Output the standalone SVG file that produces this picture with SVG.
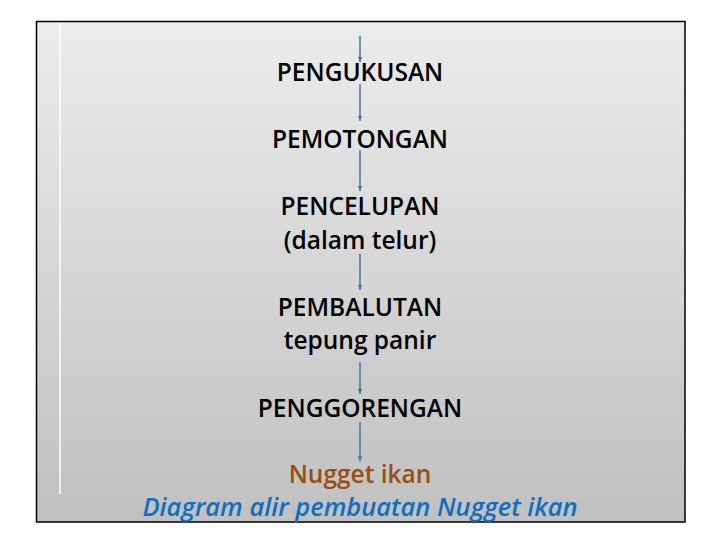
<svg xmlns="http://www.w3.org/2000/svg" width="720" height="540" viewBox="0 0 720 540">
  <defs>
    <linearGradient id="bg" x1="0" y1="0" x2="0" y2="1">
      <stop offset="0" stop-color="#ececec"/>
      <stop offset="1" stop-color="#c0c0c0"/>
    </linearGradient>
    <marker id="ah" markerWidth="6" markerHeight="6" refX="5" refY="3" orient="auto" markerUnits="userSpaceOnUse">
      <path d="M0,0.8 L5,3 L0,5.2 Z" fill="#4a74a8"/>
    </marker>
    <style>
      .t { font-family: "Open Sans", "Liberation Sans", sans-serif; font-weight: 600; font-size: 24.5px; fill: #000; text-anchor: middle; }
      .res { fill: #9a4e12; }
      .cap { font-style: italic; fill: #0f6fbe; font-size: 25.5px; }
      .c { stroke: #4a74a8; stroke-width: 1.5; fill: none; marker-end: url(#ah); }
    </style>
  </defs>
  <rect x="0" y="0" width="720" height="540" fill="#ffffff"/>
  <rect x="36.5" y="21.5" width="648.5" height="500.5" fill="url(#bg)" stroke="#000" stroke-width="1.5"/>
  <line x1="60" y1="23" x2="60" y2="494" stroke="#ffffff" stroke-width="1.5"/>

  <g id="connectors">
    <line class="c" x1="360" y1="36" x2="360" y2="62"/>
    <line class="c" x1="360" y1="84" x2="360" y2="121"/>
    <line class="c" x1="360" y1="150" x2="360" y2="191"/>
    <line class="c" x1="360" y1="254" x2="360" y2="290"/>
    <line class="c" x1="360" y1="362" x2="360" y2="394"/>
    <line class="c" x1="360" y1="422" x2="360" y2="461"/>
  </g>

  <g id="n1"><text class="t" x="360" y="81">PENGUKUSAN</text></g>
  <g id="n2"><text class="t" x="360" y="147.5">PEMOTONGAN</text></g>
  <g id="n3"><text class="t" x="360" y="215">PENCELUPAN</text><text class="t" x="360" y="249">(dalam telur)</text></g>
  <g id="n4"><text class="t" x="360" y="315.5">PEMBALUTAN</text><text class="t" x="360" y="349">tepung panir</text></g>
  <g id="n5"><text class="t" x="360" y="417">PENGGORENGAN</text></g>
  <g id="n6"><text class="t res" x="360" y="483">Nugget ikan</text></g>
  <g id="caption"><text class="t cap" x="360" y="516">Diagram alir pembuatan Nugget ikan</text></g>
</svg>
